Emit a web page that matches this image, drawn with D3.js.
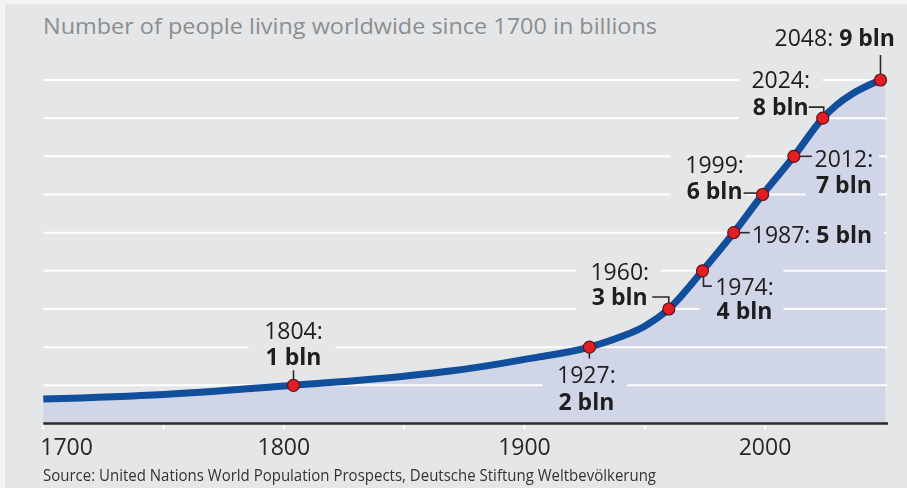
<!DOCTYPE html>
<html>
<head>
<meta charset="utf-8">
<script src="https://cdn.jsdelivr.net/npm/d3@7/dist/d3.min.js"></script>
<style>
  html, body { margin: 0; padding: 0; background: #f3f4f5; }
  svg { display: block; }
  text { font-family: "Open Sans", "Noto Sans", sans-serif; }
</style>
</head>
<body>
<svg id="chart" width="907" height="488"></svg>
<script>
// World population curve, in billions
const curveYears  = [1700, 1750, 1800, 1804, 1850, 1870, 1890, 1900, 1927, 1940, 1950, 1960, 1974, 1987, 1999, 2012, 2024, 2048, 2050];
const curveValues = [0.64, 0.76, 0.98, 1.00, 1.24, 1.38, 1.57, 1.68, 2.00, 2.27, 2.55, 3.00, 4.00, 5.00, 6.00, 7.00, 8.00, 9.00, 9.05];

// Milestone years at which each additional billion was (or will be) reached
const milestoneYears  = [1804, 1927, 1960, 1974, 1987, 1999, 2012, 2024, 2048];
const milestoneValues = [1, 2, 3, 4, 5, 6, 7, 8, 9];

// Axis ticks
const xTickLabels = [1700, 1800, 1900, 2000];
const xMinorTicks = [1700, 1750, 1800, 1850, 1900, 1950, 2000];
const gridValues  = [1, 2, 3, 4, 5, 6, 7, 8, 9];

const titleText  = "Number of people living worldwide since 1700 in billions";
const sourceText = "Source: United Nations World Population Prospects, Deutsche Stiftung Weltbevölkerung";

const W = 907, H = 488;
const svg = d3.select("#chart");

const x = d3.scaleLinear().domain([1700, 2050]).range([43.3, 885.3]);
const y = d3.scaleLinear().domain([0, 9]).range([423.5, 80]);

const curve = curveYears.map((yr, i) => ({ year: yr, value: curveValues[i] }));
const milestones = milestoneYears.map((yr, i) => ({ year: yr, value: milestoneValues[i] }));

// Label placement relative to each milestone dot
// lines: baselines of the text lines; box: gridline cut-out [x0, y0, x1, y1]
const layout = {
  1804: { anchor: "middle", dx: 0,   lines: [-46, -20],    leader: "M0,-15V-6",           box: [-45, -66, 42, -17] },
  1927: { anchor: "middle", dx: -3,  lines: [35.5, 63],    leader: "M0,6V11.5",           box: [-47, 16, 38, 68] },
  1960: { anchor: "middle", dx: -49, lines: [-29.3, -4.3], leader: "M-16.6,-12H0V-6",     box: [-93, -52, -8, 3] },
  1974: { anchor: "middle", dx: 42,  lines: [24.3, 48.6],  leader: "M1,6V15.3H9.3",       box: [-3, -2, 81, 54] },
  1987: { anchor: "start",  dx: 18,  lines: [10],          leader: "M6,0H16",             box: [6, -14, 150, 14] },
  1999: { anchor: "middle", dx: -48, lines: [-21.4, 4.3], leader: "M-19,-1.4H-6",        box: [-92, -45, -17, 6] },
  2012: { anchor: "middle", dx: 50,  lines: [10.7, 36.7],  leader: "M6,0H18",             box: [12, -12, 85, 42] },
  2024: { anchor: "middle", dx: -42, lines: [-30, -3.3],   leader: "M-14,-11H1V-6",       box: [-84, -50, 0, 4] },
  2048: { anchor: "end",    dx: 26.6, lines: [-34],        leader: "M0,-25V-6",           box: null }
};

// Panel background
svg.append("rect").attr("x", 5).attr("y", 4).attr("width", W - 5).attr("height", H - 4).attr("fill", "#e4e6e8");

// Title
svg.append("text")
  .attr("x", 43).attr("y", 34)
  .attr("font-size", 22).attr("fill", "#8b8e91")
  .attr("textLength", 614).attr("lengthAdjust", "spacingAndGlyphs")
  .text(titleText);

// Area under the curve
const area = d3.area()
  .x(d => x(d.year)).y0(y(0)).y1(d => y(d.value))
  .curve(d3.curveMonotoneX);
svg.append("path").datum(curve).attr("d", area).attr("fill", "#d0d6e8");

// Mask that cuts the gridlines around the labels
const defs = svg.append("defs");
const mask = defs.append("mask").attr("id", "gridMask")
  .attr("maskUnits", "userSpaceOnUse").attr("x", 0).attr("y", 0).attr("width", W).attr("height", H);
mask.append("rect").attr("x", 0).attr("y", 0).attr("width", W).attr("height", H).attr("fill", "white");
milestones.forEach(m => {
  const L = layout[m.year];
  if (!L.box) return;
  const cx = x(m.year), cy = y(m.value);
  mask.append("rect")
    .attr("x", cx + L.box[0]).attr("y", cy + L.box[1])
    .attr("width", L.box[2] - L.box[0]).attr("height", L.box[3] - L.box[1])
    .attr("fill", "black");
});

// Gridlines
svg.append("g").attr("mask", "url(#gridMask)")
  .selectAll("line").data(gridValues).join("line")
  .attr("x1", x(1700)).attr("x2", 887)
  .attr("y1", d => y(d)).attr("y2", d => y(d))
  .attr("stroke", "#ffffff").attr("stroke-width", 2).attr("opacity", 0.95);

// Baseline axis
svg.append("line")
  .attr("x1", x(1700)).attr("x2", 888)
  .attr("y1", y(0)).attr("y2", y(0))
  .attr("stroke", "#2a2a2a").attr("stroke-width", 2.6);

svg.append("g").selectAll("line").data(xMinorTicks).join("line")
  .attr("x1", d => x(d)).attr("x2", d => x(d))
  .attr("y1", y(0) + 1.8).attr("y2", y(0) + 6)
  .attr("stroke", "#ffffff").attr("stroke-width", 2);

svg.append("g").selectAll("text").data(xTickLabels).join("text")
  .attr("x", (d, i) => i === 0 ? x(d) - 3 : x(d))
  .attr("y", 455)
  .attr("text-anchor", (d, i) => i === 0 ? "start" : "middle")
  .attr("font-size", 23).attr("fill", "#262626")
  .text(d => d);

// Population curve
const line = d3.line().x(d => x(d.year)).y(d => y(d.value)).curve(d3.curveMonotoneX);
svg.append("path").datum(curve).attr("d", line)
  .attr("fill", "none").attr("stroke", "#114e9b").attr("stroke-width", 7);

// Leader lines and labels (one text element per milestone)
const labelG = svg.append("g");
milestones.forEach(m => {
  const L = layout[m.year];
  const cx = x(m.year), cy = y(m.value);
  labelG.append("path")
    .attr("transform", `translate(${cx},${cy})`)
    .attr("d", L.leader)
    .attr("fill", "none").attr("stroke", "#2a2a2a").attr("stroke-width", 1.6);

  let tx = cx + L.dx;
  if (L.anchor === "end") tx = Math.min(tx, W - 12);
  const yearStr = m.year + ":";
  const valStr = m.value + " bln";
  const t = labelG.append("text")
    .attr("text-anchor", L.anchor).attr("font-size", 23).attr("fill", "#1e1e1e");
  if (L.lines.length === 2) {
    t.append("tspan").attr("x", tx).attr("y", cy + L.lines[0]).text(yearStr);
    t.append("tspan").attr("x", tx).attr("y", cy + L.lines[1]).attr("font-weight", 700).text(valStr);
  } else {
    t.attr("x", tx).attr("y", cy + L.lines[0]);
    t.append("tspan").text(yearStr + " ");
    t.append("tspan").attr("font-weight", 700).text(valStr);
  }
});

// Milestone dots
svg.append("g").selectAll("circle").data(milestones).join("circle")
  .attr("cx", d => x(d.year)).attr("cy", d => y(d.value)).attr("r", 6)
  .attr("fill", "#e21d26").attr("stroke", "#5c1414").attr("stroke-width", 1.2);

// Source line
svg.append("text")
  .attr("x", 43).attr("y", 481)
  .attr("font-size", 15.5).attr("fill", "#333333")
  .attr("textLength", 613).attr("lengthAdjust", "spacingAndGlyphs")
  .text(sourceText);
</script>
</body>
</html>
